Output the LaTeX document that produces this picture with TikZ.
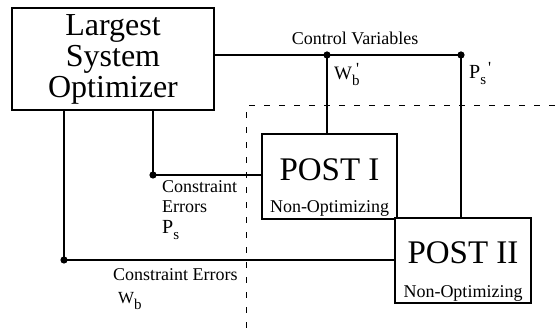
\documentclass[tikz,border=0pt]{standalone}
\usepackage{fontspec}
\setmainfont{Liberation Serif}
\newcommand{\lowidx}[2]{#1\raisebox{-6pt}{\fontsize{15}{15}\selectfont #2}}
\newcommand{\tick}{\raisebox{5pt}{\fontsize{17}{17}\selectfont\textquotesingle}}
\begin{document}
\begin{tikzpicture}[
        x=1pt, y=1pt,
        box/.style={draw, fill=white, line width=1.4pt, inner sep=0pt},
        wire/.style={draw, line width=1.4pt},
        border/.style={draw, line width=1pt, dash pattern=on 6pt off 9pt},
        lbl/.style={font=\fontsize{18}{20.5}\selectfont, inner sep=0pt},
        title/.style={font=\fontsize{33}{33}\selectfont, inner sep=0pt, anchor=base},
    ]
    \useasboundingbox (0,0) rectangle (560,328);
    \draw[border] (246,0) -- (246,222) -- (560,222);

    \node[box, minimum width=202pt, minimum height=102pt, align=center,
        font=\fontsize{32}{31}\selectfont] (lso) at (113,269) {Largest\\System\\Optimizer};
    \node[box, minimum width=135pt, minimum height=85pt] (post1) at (329.5,151.5) {};
    \node[title] (post1t) at ([yshift=-47pt]post1.north) {POST I};
    \node[lbl, anchor=base] (post1s) at ([yshift=7pt]post1.south) {Non-Optimizing};
    \node[box, minimum width=136pt, minimum height=85pt] (post2) at (463,67.5) {};
    \node[title] (post2t) at ([yshift=-46pt]post2.north) {POST II};
    \node[lbl, anchor=base] (post2s) at ([yshift=6pt]post2.south) {Non-Optimizing};

    \coordinate (wbout) at (327,273);
    \coordinate (psout) at (461,273);
    \coordinate (psin) at (153,153);
    \coordinate (wbin) at (64,68);
    \draw[wire] (lso.east |- wbout) -- (psout);
    \draw[wire] (wbout) -- (wbout |- post1.north);
    \draw[wire] (psout) -- (psout |- post2.north);
    \draw[wire] (lso.south -| psin) -- (psin) -- (psin -| post1.west);
    \draw[wire] (lso.south -| wbin) -- (wbin) -- (wbin -| post2.west);
    \foreach \c in {wbout,psout,psin,wbin}
        \fill (\c) circle (3.6pt);

    \node[lbl, anchor=base] (cv) at (355,283) {Control Variables};
    \node[lbl, anchor=base west, font=\fontsize{19}{20}\selectfont] (wbl) at (334,248)
        {W\rlap{\raisebox{-6pt}{\fontsize{15}{15}\selectfont b}}\hspace{4pt}\tick};
    \node[lbl, anchor=base west, font=\fontsize{20}{20}\selectfont] (psl) at (469,249)
        {\lowidx{P}{s}\hspace{2pt}\tick};
    \node[lbl, align=left, anchor=north west] (pserr) at (162,148)
        {Constraint\\Errors\\{\fontsize{20}{20}\selectfont\lowidx{P}{s}}};
    \node[lbl, align=left, anchor=north west, font=\fontsize{18}{23}\selectfont] (wberr) at (113,60)
        {Constraint Errors\\\hspace{5pt}{\fontsize{17}{23}\selectfont\lowidx{W}{b}}};
\end{tikzpicture}
\end{document}
